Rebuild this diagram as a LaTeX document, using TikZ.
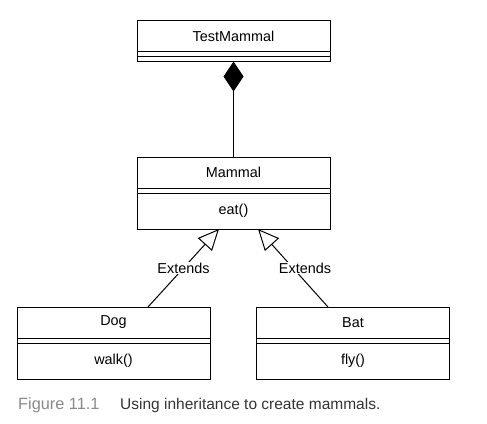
\documentclass[tikz,border=0pt]{standalone}
\usepackage{fontspec}
\setmainfont{Liberation Sans}
\usepackage{tikz}
\usetikzlibrary{positioning,arrows.meta}
\tikzstyle{classname} = [rectangle, minimum width=193pt, minimum height=31pt, text centered, draw=black, line width=1pt, outer sep=0pt, font=\fontsize{14.4}{16}\selectfont]
\tikzstyle{classgap} = [rectangle, minimum width=193pt, minimum height=5pt, inner sep=0pt, draw=black, line width=1pt, outer sep=0pt]
\tikzstyle{classops} = [rectangle, minimum width=193pt, minimum height=36pt, text centered, draw=black, line width=1pt, outer sep=0pt, font=\fontsize{14.4}{16}\selectfont]
\tikzstyle{compose} = [line width=1pt, {Diamond[length=30pt,width=20pt]}-]
\tikzstyle{extends} = [line width=1pt, -{Triangle[open,length=21pt,width=19pt]}]
\tikzstyle{extlabel} = [fill=white, inner sep=1pt, font=\fontsize{14.4}{16}\selectfont]
\definecolor{capgray}{HTML}{8A8A8A}
\definecolor{captext}{HTML}{333333}

\begin{document}
\begin{tikzpicture}[x=1pt, y=-1pt]
    \useasboundingbox (0,0) rectangle (487,423);
    % classes
    \node (testname) [classname] at (233.5,36) {TestMammal};
    \node (testgap) [classgap, below=0pt of testname] {};
    \node (testops) [classgap, below=0pt of testgap] {};
    \node (mammalname) [classname] at (233.5,172.5) {Mammal};
    \node (mammalgap) [classgap, below=0pt of mammalname] {};
    \node (mammalops) [classops, below=0pt of mammalgap] {eat()};
    \node (dogname) [classname] at (113.5,322.5) {Dog};
    \node (doggap) [classgap, below=0pt of dogname] {};
    \node (dogops) [classops, below=0pt of doggap] {walk()};
    \node (batname) [classname] at (353,322.5) {Bat};
    \node (batgap) [classgap, below=0pt of batname] {};
    \node (batops) [classops, below=0pt of batgap] {fly()};
    % relations
    \draw [compose] (testops.south) -- (mammalname.north);
    \draw [extends] ([xshift=34.5pt]dogname.north) -- node[extlabel, midway] {Extends} ([xshift=-14.5pt]mammalops.south);
    \draw [extends] ([xshift=-25pt]batname.north) -- node[extlabel, midway, xshift=12pt] {Extends} ([xshift=24.5pt]mammalops.south);
    % caption
    \node (figlabel) [anchor=west, text=capgray, inner sep=0pt, font=\fontsize{16.3}{18}\selectfont] at (18,405) {Figure 11.1};
    \node (figtext) [anchor=west, text=captext, inner sep=0pt, font=\fontsize{15.5}{18}\selectfont] at (120,405) {Using inheritance to create mammals.};
\end{tikzpicture}
\end{document}
